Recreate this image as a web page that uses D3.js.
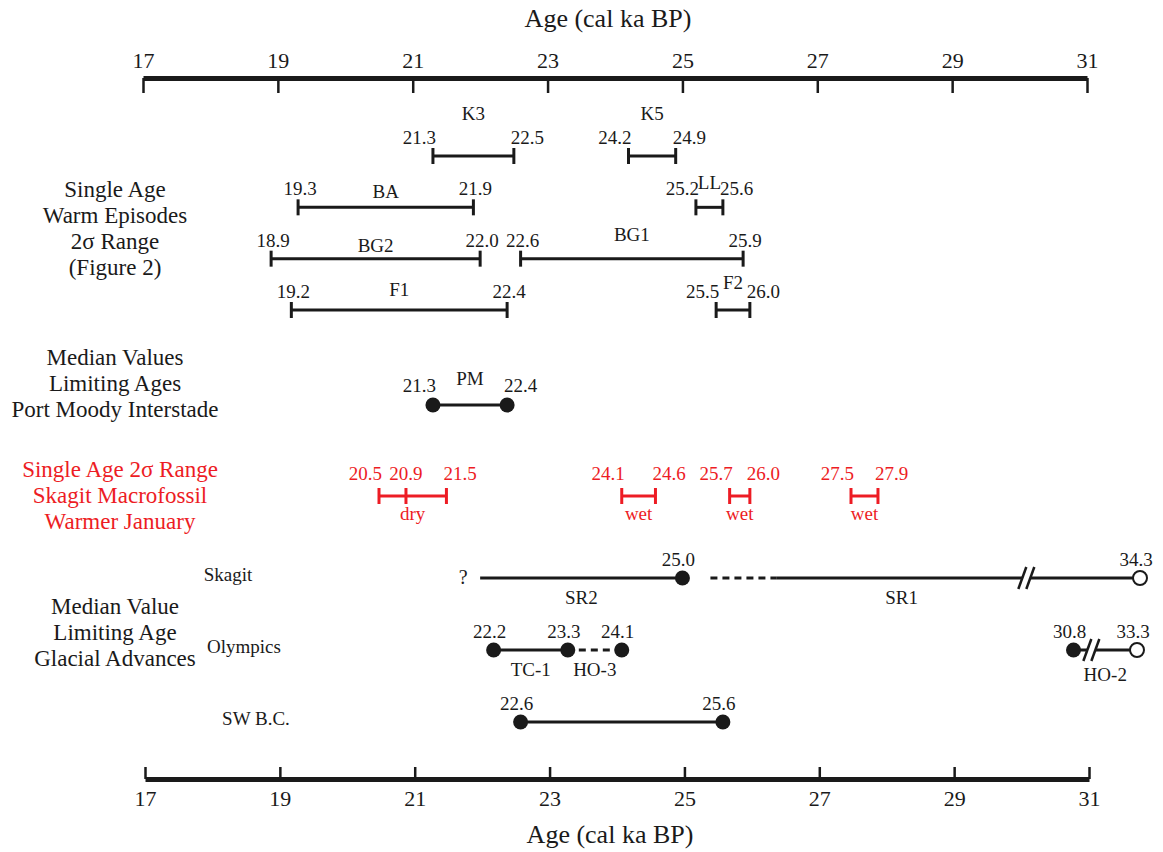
<!DOCTYPE html>
<html>
<head>
<meta charset="utf-8">
<script src="https://cdn.jsdelivr.net/npm/d3@7/dist/d3.min.js"></script>
<style>
  body { margin: 0; background: #fff; }
  text { font-family: "Liberation Serif", "Times New Roman", serif; fill: #1a1a1a; }
</style>
</head>
<body>
<svg id="chart" width="1163" height="852"></svg>
<script>

// ---- data ----
var ticks = [17, 19, 21, 23, 25, 27, 29, 31];

var warmEpisodes = [
  {name: "K3",  from: 21.3, to: 22.5, row: 0},
  {name: "K5",  from: 24.2, to: 24.9, row: 0},
  {name: "BA",  from: 19.3, to: 21.9, row: 1},
  {name: "LL",  from: 25.2, to: 25.6, row: 1},
  {name: "BG2", from: 18.9, to: 22.0, row: 2},
  {name: "BG1", from: 22.6, to: 25.9, row: 2},
  {name: "F1",  from: 19.2, to: 22.4, row: 3},
  {name: "F2",  from: 25.5, to: 26.0, row: 3}
];

var portMoody = [{name: "PM", from: 21.3, to: 22.4}];

var macrofossils = [
  {from: 20.5, mid: 20.9, to: 21.5, note: "dry"},
  {from: 24.1, to: 24.6, note: "wet"},
  {from: 25.7, to: 26.0, note: "wet"},
  {from: 27.5, to: 27.9, note: "wet"}
];

var glacialSites = ["Skagit", "Olympics", "SW B.C."];

var glacialSegments = [
  {site: "Skagit",   name: "SR2",  from: 22.0, to: 25.0, dashed: false, unknownStart: true},
  {site: "Skagit",   name: "",     from: 25.0, to: 26.4, dashed: true},
  {site: "Skagit",   name: "SR1",  from: 26.4, to: 34.3, dashed: false, breakAt: 30.1},
  {site: "Olympics", name: "TC-1", from: 22.2, to: 23.3, dashed: false},
  {site: "Olympics", name: "HO-3", from: 23.3, to: 24.1, dashed: true},
  {site: "Olympics", name: "HO-2", from: 30.8, to: 33.3, dashed: false, breakAt: 31.2},
  {site: "SW B.C.",  name: "",     from: 22.6, to: 25.6, dashed: false}
];

var glacialPoints = [
  {site: "Skagit",   age: 25.0, open: false},
  {site: "Skagit",   age: 34.3, open: true},
  {site: "Olympics", age: 22.2, open: false},
  {site: "Olympics", age: 23.3, open: false},
  {site: "Olympics", age: 24.1, open: false},
  {site: "Olympics", age: 30.8, open: false},
  {site: "Olympics", age: 33.3, open: true},
  {site: "SW B.C.",  age: 22.6, open: false},
  {site: "SW B.C.",  age: 25.6, open: false}
];

var groupLabels = [
  {lines: ["Single Age", "Warm Episodes", "2\u03c3 Range", "(Figure 2)"], red: false},
  {lines: ["Median Values", "Limiting Ages", "Port Moody Interstade"], red: false},
  {lines: ["Single Age 2\u03c3 Range", "Skagit Macrofossil", "Warmer January"], red: true},
  {lines: ["Median Value", "Limiting Age", "Glacial Advances"], red: false}
];

// ---- layout ----
var ink = "#1a1a1a", red = "#ed1c24";
var fmt = d3.format(".1f");
var svg = d3.select("#chart");

var x = d3.scaleLinear().domain([17, 31]).range([143, 1087]);
// ages past the axis break are squeezed in just beyond the end
var xg = d3.scaleLinear().domain([17, 31, 33.3, 34.3]).range([143, 1087, 1137, 1140]);

var warmY = d3.scaleLinear().domain([0, 3]).range([156, 310]);
var glacialY = d3.scalePoint().domain(glacialSites).range([578, 722]);
var groupTop = [197, 365, 477, 614];
var groupX = [115, 115, 120, 115];
var siteLabelX = {"Skagit": 228, "Olympics": 244, "SW B.C.": 256};
var nameDy = {K3: -36, K5: -36, BA: -9, LL: -18, BG2: -7, BG1: -18, F1: -14, F2: -21};
var pmY = 405, redY = 496;

// ---- axes ----
function styleAxis(g){
  g.attr("font-family", null).attr("font-size", null);
  g.select(".domain").attr("stroke", ink).attr("stroke-width", 5);
  g.selectAll(".tick line").attr("stroke", ink).attr("stroke-width", 2.5);
  g.selectAll(".tick text").attr("font-size", 22).attr("fill", ink);
}

svg.append("g")
  .attr("transform", "translate(0,78)")
  .call(d3.axisTop(x).tickValues(ticks).tickFormat(d3.format("d"))
    .tickSizeInner(-15).tickSizeOuter(0).tickPadding(10))
  .call(styleAxis);

svg.append("g")
  .attr("transform", "translate(2,779)")
  .call(d3.axisBottom(x).tickValues(ticks).tickFormat(d3.format("d"))
    .tickSizeInner(-12).tickSizeOuter(0).tickPadding(11))
  .call(styleAxis);

svg.append("text").attr("x", 608).attr("y", 27).attr("text-anchor", "middle")
  .attr("font-size", 26).text("Age (cal ka BP)");
svg.append("text").attr("x", 610).attr("y", 843).attr("text-anchor", "middle")
  .attr("font-size", 26).text("Age (cal ka BP)");

// ---- left hand group labels ----
groupLabels.forEach(function(g, i){
  var t = svg.append("text")
    .attr("text-anchor", "middle")
    .attr("font-size", 23)
    .style("fill", g.red ? red : ink);
  t.selectAll("tspan").data(g.lines).enter().append("tspan")
    .attr("x", groupX[i])
    .attr("y", function(d, j){ return groupTop[i] + j * 26; })
    .text(function(d){ return d; });
});

// range bar with end caps
function rangeBar(sel, y, color, d){
  var x0 = x(d.from), x1 = x(d.to);
  sel.append("line").attr("x1", x0).attr("x2", x1).attr("y1", y).attr("y2", y)
    .attr("stroke", color).attr("stroke-width", 3);
  [d.from, d.mid, d.to].forEach(function(v){
    if (v === undefined) return;
    sel.append("line").attr("x1", x(v)).attr("x2", x(v)).attr("y1", y - 8).attr("y2", y + 8)
      .attr("stroke", color).attr("stroke-width", 3);
  });
}

// end values, pushed outward when the bar is short
function endLabels(sel, y, color, d, size){
  var x0 = x(d.from), x1 = x(d.to);
  var short = x1 - x0 < 100;
  sel.append("text").attr("x", short ? x0 + 3 : x0 + 2).attr("y", y)
    .attr("text-anchor", short ? "end" : "middle").attr("font-size", size)
    .style("fill", color).text(fmt(d.from));
  sel.append("text").attr("x", short ? x1 - 3 : x1 + 2).attr("y", y)
    .attr("text-anchor", short ? "start" : "middle").attr("font-size", size)
    .style("fill", color).text(fmt(d.to));
}

// ---- warm episodes ----
var warm = svg.append("g");
warmEpisodes.forEach(function(d){
  var y = warmY(d.row);
  var g = warm.append("g");
  rangeBar(g, y, ink, d);
  endLabels(g, y - 12, ink, d, 19);
  g.append("text").attr("x", (x(d.from) + x(d.to)) / 2).attr("y", y + nameDy[d.name])
    .attr("text-anchor", "middle").attr("font-size", 19).text(d.name);
});

// ---- Port Moody ----
portMoody.forEach(function(d){
  var g = svg.append("g");
  g.append("line").attr("x1", x(d.from)).attr("x2", x(d.to)).attr("y1", pmY).attr("y2", pmY)
    .attr("stroke", ink).attr("stroke-width", 3);
  g.selectAll("circle").data([d.from, d.to]).enter().append("circle")
    .attr("cx", function(v){ return x(v); }).attr("cy", pmY).attr("r", 7.5).attr("fill", ink);
  endLabels(g, pmY - 13, ink, d, 19);
  g.append("text").attr("x", (x(d.from) + x(d.to)) / 2).attr("y", pmY - 20)
    .attr("text-anchor", "middle").attr("font-size", 19).text(d.name);
});

// ---- Skagit macrofossils (red) ----
macrofossils.forEach(function(d){
  var g = svg.append("g");
  rangeBar(g, redY, red, d);
  endLabels(g, redY - 16, red, d, 19);
  if (d.mid !== undefined) {
    g.append("text").attr("x", x(d.mid)).attr("y", redY - 16).attr("text-anchor", "middle")
      .attr("font-size", 19).style("fill", red).text(fmt(d.mid));
  }
  g.append("text").attr("x", (x(d.from) + x(d.to)) / 2).attr("y", redY + 24)
    .attr("text-anchor", "middle").attr("font-size", 19).style("fill", red).text(d.note);
});

// ---- glacial advances ----
var glac = svg.append("g");

glac.selectAll(".site").data(glacialSites).enter().append("text")
  .attr("x", function(d){ return siteLabelX[d]; })
  .attr("y", function(d){ return glacialY(d) + 3; })
  .attr("text-anchor", "middle").attr("font-size", 19)
  .text(function(d){ return d; });

glacialSegments.forEach(function(d){
  var y = glacialY(d.site);
  var x0 = xg(d.from), x1 = xg(d.to);
  if (d.dashed) {
    var lead = (x1 - x0) > 80 ? 28 : 11;
    glac.append("line").attr("x1", x0 + lead).attr("x2", x1).attr("y1", y).attr("y2", y)
      .attr("stroke", ink).attr("stroke-width", 3).attr("stroke-dasharray", "7,5");
  } else {
    glac.append("line").attr("x1", x0).attr("x2", x1).attr("y1", y).attr("y2", y)
      .attr("stroke", ink).attr("stroke-width", 3);
  }
  if (d.unknownStart) {
    glac.append("text").attr("x", x0 - 17).attr("y", y + 6).attr("text-anchor", "middle")
      .attr("font-size", 20).text("?");
  }
  var labelEnd = x1;
  if (d.breakAt !== undefined) {
    var xb = xg(d.breakAt);
    glac.append("rect").attr("x", xb - 4).attr("y", y - 3).attr("width", 8).attr("height", 6)
      .attr("fill", "#fff");
    [-4, 4].forEach(function(o){
      glac.append("line").attr("x1", xb + o - 4).attr("x2", xb + o + 4)
        .attr("y1", y + 11).attr("y2", y - 11)
        .attr("stroke", ink).attr("stroke-width", 2.5);
    });
    if (x1 - xb > 60) labelEnd = xb;
  }
  if (d.name) {
    glac.append("text").attr("x", (x0 + labelEnd) / 2).attr("y", y + (d.breakAt && labelEnd === x1 ? 31 : 26))
      .attr("text-anchor", "middle").attr("font-size", 19).text(d.name);
  }
});

glac.selectAll(".pt").data(glacialPoints).enter().append("circle")
  .attr("cx", function(d){ return xg(d.age); })
  .attr("cy", function(d){ return glacialY(d.site); })
  .attr("r", function(d){ return d.open ? 7 : 7.5; })
  .attr("fill", function(d){ return d.open ? "#fff" : ink; })
  .attr("stroke", ink).attr("stroke-width", function(d){ return d.open ? 2 : 0; });

glac.selectAll(".ptlabel").data(glacialPoints).enter().append("text")
  .attr("x", function(d){ return xg(d.age) - 4; })
  .attr("y", function(d){ return glacialY(d.site) - 12; })
  .attr("text-anchor", "middle").attr("font-size", 19)
  .text(function(d){ return fmt(d.age); });

</script>
</body>
</html>
